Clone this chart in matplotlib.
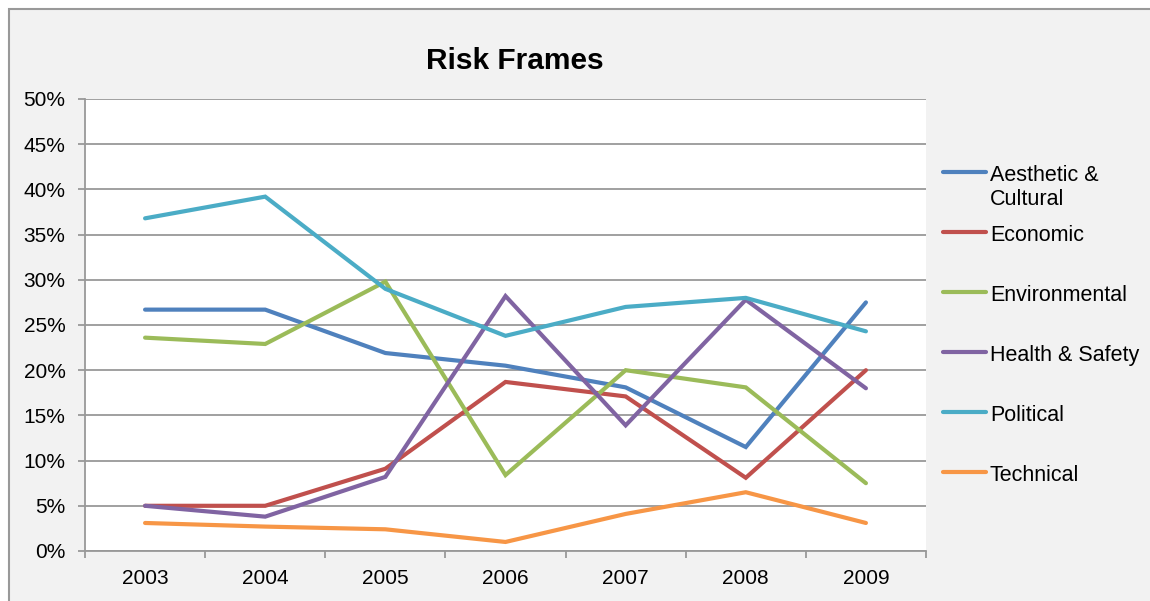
import numpy as np
import matplotlib.pyplot as plt
from matplotlib.lines import Line2D
from matplotlib.patches import Rectangle
from matplotlib.ticker import FuncFormatter, MultipleLocator

plt.rcParams['font.family'] = ['Liberation Sans', 'DejaVu Sans']

years = [2003, 2004, 2005, 2006, 2007, 2008, 2009]

aesthetic = [26.7, 26.7, 21.9, 20.5, 18.1, 11.5, 27.5]
economic = [5.0, 5.0, 9.1, 18.7, 17.1, 8.1, 20.0]
environmental = [23.6, 22.9, 29.8, 8.4, 20.0, 18.1, 7.5]
health_safety = [5.0, 3.8, 8.2, 28.2, 13.9, 27.8, 18.0]
political = [36.8, 39.2, 29.0, 23.8, 27.0, 28.0, 24.3]
technical = [3.1, 2.7, 2.4, 1.0, 4.1, 6.5, 3.1]

frame_names = ["Aesthetic &\nCultural", "Economic", "Environmental",
               "Health & Safety", "Political", "Technical"]
frame_values = [aesthetic, economic, environmental, health_safety, political, technical]
colors = ["#4F81BD", "#C0504D", "#9BBB59", "#8064A2", "#4BACC6", "#F79646"]

W, H = 1150, 601
fig = plt.figure(figsize=(W / 100, H / 100), dpi=100, facecolor="white")

# chart area box
fig.add_artist(Rectangle((8.5 / W, -0.1), 1.2, 1 - 9 / H + 0.1,
                         transform=fig.transFigure, facecolor="#f2f2f2",
                         edgecolor="#999999", linewidth=1.5, zorder=0))

ax = fig.add_axes([85 / W, 1 - 551 / H, (926 - 85) / W, (551 - 99) / H])
ax.set_facecolor("white")

for vals, col in zip(frame_values, colors):
    ax.plot(years, vals, color=col, linewidth=3.0, solid_capstyle="round",
            solid_joinstyle="miter", zorder=3)

ax.set_xlim(2002.5, 2009.5)
ax.set_ylim(0, 50)
ax.yaxis.set_major_locator(MultipleLocator(5))
ax.yaxis.set_major_formatter(FuncFormatter(lambda v, p: f"{v:.0f}%"))
ax.grid(axis="y", color="#999999", linewidth=1.3, zorder=1)

ax.set_xticks(years)
ax.set_xticks(np.arange(2002.5, 2010, 1), minor=True)
ax.tick_params(axis="x", which="major", length=0, pad=13, labelsize=15)
ax.tick_params(axis="x", which="minor", length=5, width=1.3, color="#999999")
ax.tick_params(axis="y", length=5, width=1.3, color="#999999", pad=9, labelsize=15)

for side in ["top", "right"]:
    ax.spines[side].set_visible(False)
for side in ["left", "bottom"]:
    ax.spines[side].set_color("#999999")
    ax.spines[side].set_linewidth(1.3)

fig.text(515 / W, 1 - 61 / H, "Risk Frames", ha="center", va="center",
         fontsize=21.5, fontweight="bold")

# legend drawn as line swatches beside the labels
for i, (name, col) in enumerate(zip(frame_names, colors)):
    y = 1 - (172 + 60 * i) / H
    fig.add_artist(Line2D([943 / W, 986 / W], [y, y], transform=fig.transFigure,
                          color=col, linewidth=3.0, solid_capstyle="round"))
    fig.text(990 / W, y + 7 / H, name, ha="left", va="top", fontsize=15.5,
             linespacing=1.18)

fig.savefig("out.png", dpi=100, facecolor=fig.get_facecolor())
